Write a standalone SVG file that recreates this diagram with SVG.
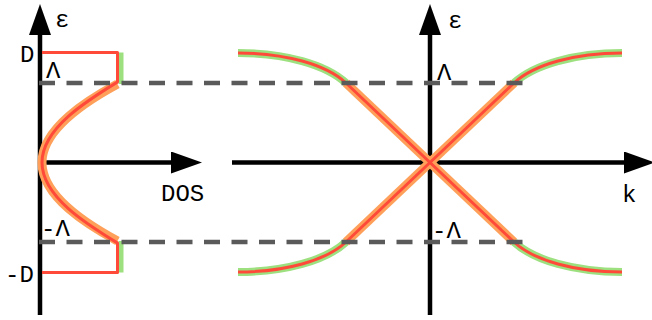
<svg xmlns="http://www.w3.org/2000/svg" width="652" height="320" viewBox="0 0 652 320">
<defs>
<marker id="arr" markerUnits="userSpaceOnUse" markerWidth="32" markerHeight="22" refX="2" refY="11" orient="auto" viewBox="0 0 31 22">
<path d="M0,0 L31,11 L0,22 z" fill="#000"/>
</marker>
<style>
.axis{stroke:#000;stroke-width:4.5;fill:none}
.dash{stroke:#5a5a5a;stroke-width:4.5;stroke-dasharray:16 11.5;fill:none}
.green{stroke:#9de07f;stroke-width:8;fill:none}
.orange{stroke:#ffa05a;stroke-width:9;fill:none}
.red{stroke:#ff4a3a;stroke-width:3;fill:none;stroke-linejoin:round}
.lbl{font-family:"Liberation Mono","DejaVu Sans Mono",monospace;font-size:24px;fill:#000}
</style>
</defs>
<rect width="652" height="320" fill="#fff"/>
<g id="axes">
<line class="axis" x1="40" y1="315" x2="40" y2="33" marker-end="url(#arr)"/>
<line class="axis" x1="44" y1="162.5" x2="173" y2="162.5" marker-end="url(#arr)"/>
<line class="axis" x1="430" y1="315" x2="430" y2="33" marker-end="url(#arr)"/>
<line class="axis" x1="232" y1="162.5" x2="626" y2="162.5" marker-end="url(#arr)"/>
</g>
<g id="dos-curve">
<line class="green" x1="121" y1="52.5" x2="121" y2="84" style="stroke-width:5"/>
<line class="green" x1="121" y1="241" x2="121" y2="272.5" style="stroke-width:5"/>
<path class="orange" d="M117.5,84 C88,100 42,128 42,162.5 C42,197 88,225 117.5,241"/>
<path class="red" d="M42,52.5 H117.5 V82 C88,100 42,128 42,162.5 C42,197 88,225 117.5,243 V272.5 H42"/>
</g>
<g id="dispersion">
<path class="green" d="M346,83 C326,64.4 285,53 238,53"/>
<path class="green" d="M514,83 C534,64.4 575,53 622,53"/>
<path class="green" d="M346,242 C326,260.6 285,272 238,272"/>
<path class="green" d="M514,242 C534,260.6 575,272 622,272"/>
<path class="orange" d="M346,83 L514,242"/>
<path class="orange" d="M346,242 L514,83"/>
<path class="red" d="M238,53 C285,53 326,64.4 346,83 L514,242 C534,260.6 575,272 622,272"/>
<path class="red" d="M238,272 C285,272 326,260.6 346,242 L514,83 C534,64.4 575,53 622,53"/>
</g>
<g id="cutoffs">
<line class="dash" x1="39" y1="83" x2="526" y2="83"/>
<line class="dash" x1="39" y1="242" x2="526" y2="242"/>
</g>
<g id="labels">
<text class="lbl" x="55" y="27">ε</text>
<text class="lbl" x="448" y="28">ε</text>
<text class="lbl" x="20" y="62">D</text>
<text class="lbl" x="46" y="78">Λ</text>
<text class="lbl" x="41" y="236">-Λ</text>
<text class="lbl" x="5" y="282">-D</text>
<text class="lbl" x="437" y="80">Λ</text>
<text class="lbl" x="432" y="238">-Λ</text>
<text class="lbl" x="161" y="201">DOS</text>
<text class="lbl" x="622" y="202">k</text>
</g>
</svg>
